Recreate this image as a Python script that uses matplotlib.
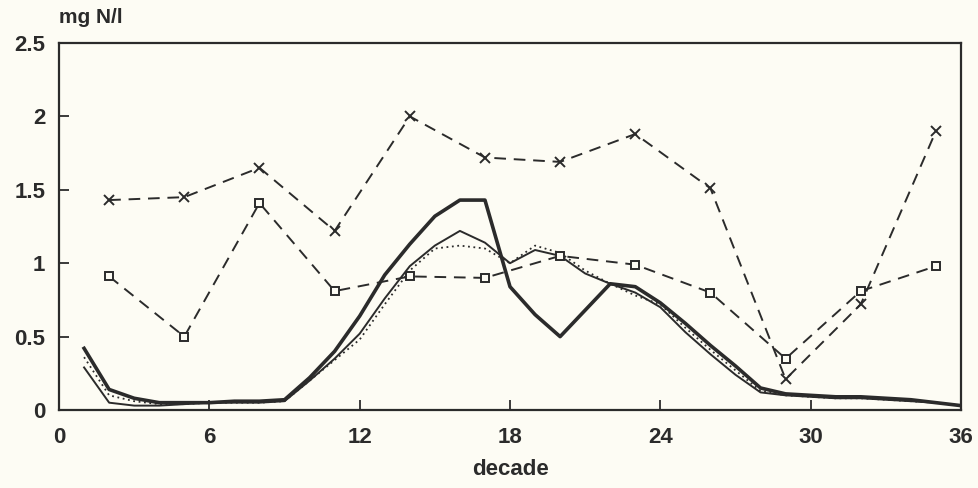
import numpy as np
import matplotlib.pyplot as plt

# decade series (continuous lines, every decade 1..36)
decade = np.arange(1, 37)
thick = [0.42, 0.14, 0.08, 0.05, 0.05, 0.05, 0.06, 0.06, 0.07, 0.22,
         0.40, 0.64, 0.92, 1.13, 1.32, 1.43, 1.43, 0.84, 0.65, 0.50,
         0.68, 0.86, 0.84, 0.73, 0.59, 0.44, 0.30, 0.15, 0.11, 0.10,
         0.09, 0.09, 0.08, 0.07, 0.05, 0.03]
thin = [0.29, 0.05, 0.03, 0.03, 0.04, 0.05, 0.05, 0.05, 0.06, 0.20,
        0.35, 0.52, 0.76, 0.98, 1.12, 1.22, 1.14, 1.00, 1.09, 1.05,
        0.93, 0.86, 0.80, 0.70, 0.53, 0.38, 0.24, 0.12, 0.10, 0.09,
        0.08, 0.08, 0.07, 0.06, 0.05, 0.03]
dotted = [0.36, 0.10, 0.06, 0.04, 0.04, 0.05, 0.05, 0.05, 0.06, 0.20,
          0.34, 0.48, 0.72, 0.95, 1.10, 1.12, 1.10, 1.00, 1.12, 1.07,
          0.95, 0.86, 0.78, 0.72, 0.56, 0.41, 0.27, 0.13, 0.10, 0.09,
          0.08, 0.08, 0.07, 0.06, 0.05, 0.03]

# sampled series (markers every 3 decades)
sample_decade = [2, 5, 8, 11, 14, 17, 20, 23, 26, 29, 32, 35]
crosses = [1.43, 1.45, 1.65, 1.22, 2.00, 1.72, 1.69, 1.88, 1.51, 0.21, 0.72, 1.90]
squares = [0.91, 0.50, 1.41, 0.81, 0.91, 0.90, 1.05, 0.99, 0.80, 0.35, 0.81, 0.98]

xticks = [0, 6, 12, 18, 24, 30, 36]
yticks = [0, 0.5, 1, 1.5, 2, 2.5]
ytick_labels = ['0', '0.5', '1', '1.5', '2', '2.5']

bg = '#fdfcf4'
ink = '#2b2b2b'
plt.rcParams['font.family'] = ['Liberation Sans', 'DejaVu Sans']

fig = plt.figure(figsize=(9.79, 4.88), dpi=100, facecolor=bg)
ax = fig.add_axes([0.0603, 0.1598, 0.9213, 0.7521], facecolor=bg)

ax.plot(decade, thin, color=ink, lw=1.4)
ax.plot(decade, dotted, color=ink, lw=1.3, linestyle=(0, (1, 2)))
ax.plot(decade, thick, color=ink, lw=2.6)
ax.plot(sample_decade, crosses, color=ink, lw=1.4, dashes=(6, 4),
        marker='x', markersize=7, markeredgewidth=1.4)
ax.plot(sample_decade, squares, color=ink, lw=1.4, dashes=(6, 4),
        marker='s', markersize=5.5, markerfacecolor=bg, markeredgewidth=1.4)

ax.set_xlim(0, 36)
ax.set_ylim(0, 2.5)
ax.set_xticks(xticks)
ax.set_yticks(yticks)
ax.set_yticklabels(ytick_labels)
ax.tick_params(direction='in', length=7, width=1.3, colors=ink,
               labelsize=16)
ax.tick_params(axis='x', pad=12)
ax.tick_params(axis='y', pad=10)
for lab in ax.get_xticklabels() + ax.get_yticklabels():
    lab.set_fontweight('bold')
for s in ax.spines.values():
    s.set_linewidth(1.6)
    s.set_color(ink)

ax.set_xlabel('decade', fontsize=16, fontweight='bold', color=ink, labelpad=8)
fig.text(0.06, 0.965, 'mg N/l', fontsize=15, fontweight='bold', color=ink,
         ha='left', va='center')

fig.savefig('out.png', dpi=100, facecolor=bg)
